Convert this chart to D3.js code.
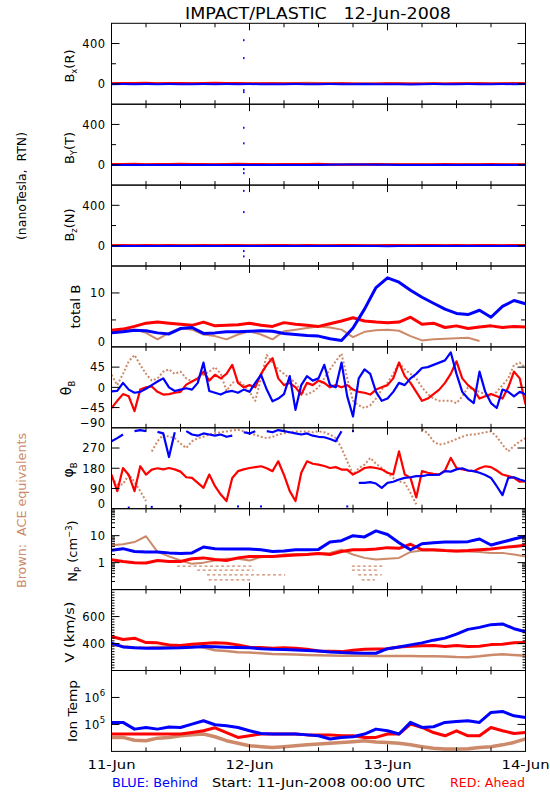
<!DOCTYPE html>
<html><head><meta charset="utf-8">
<script src="https://cdn.jsdelivr.net/npm/d3@7"></script>
<style>body{margin:0;background:#fff}svg{display:block}text{font-family:"DejaVu Sans",sans-serif}</style>
</head><body><svg id="c" width="550" height="800"></svg>
<script>
// ---------------- DATA ----------------
const hours2h = [0,2,4,6,8,10,12,14,16,18,20,22,24,26,28,30,32,34,36,38,40,42,44,46,48,50,52,54,56,58,60,62,64,66,68,70,72];
const hours1h = [0,1,2,3,4,5,6,7,8,9,10,11,12,13,14,15,16,17,18,19,20,21,22,23,24,25,26,27,28,29,30,31,32,33,34,35,36,37,38,39,40,41,42,43,44,45,46,47,48,49,50,51,52,53,54,55,56,57,58,59,60,61,62,63,64,65,66,67,68,69,70,71,72];
const dayHours = [0,24,48,72];
const dayLabels = ["11-Jun","12-Jun","13-Jun","14-Jun"];

// B components (nT, RTN)
const bxBehind = [-2,-1,-2,-1,-2,-1,-2,-2,-1,-2,-1,-2,-1,-2,-3,-2,-1,-2,-2,-1,-2,-2,-1,-3,-2,-2,-4,-2,-1,-2,-2,-1,-2,-2,-1,-2,-1];
const bxAhead  = [6,8,7,9,6,8,7,6,8,9,7,8,6,5,4,3,4,3,2,3,4,3,2,3,4,5,3,2,4,3,5,6,4,3,5,4,6];
const bxAce    = [3,2,4,3,2,3,4,5,3,4,3,2,4,3,6,8,7,9,8,7,6,3,2,3,4,3,2,3,4,3,2,6,7,5,3,6,4];
const byBehind = [-1,-2,-1,-2,-2,-1,-2,-1,-2,-1,-2,-2,-1,-2,-1,-2,-1,-2,-1,2,3,4,3,2,1,-1,-2,-1,-2,-1,-2,-1,-2,-1,-2,-1,-2];
const byAhead  = [7,6,8,5,7,6,8,7,6,5,7,8,6,7,5,6,7,6,8,5,2,3,4,6,5,4,3,5,4,6,3,5,4,6,5,4,5];
const byAce    = [4,3,5,4,3,4,5,3,4,3,5,4,3,2,4,3,5,3,4,3,2,3,4,3,5,3,4,3,2,4,3,5,3,4,3,2,4];
const bzBehind = [-1,-2,-1,-1,-2,-1,-2,-1,-1,-2,-1,-2,-1,-2,-1,-1,-2,-1,-2,-1,-2,-1,-2,-3,-4,-2,-1,-2,-1,-2,-1,-2,-1,-2,-1,-2,-1];
const bzAhead  = [4,5,3,6,4,5,4,3,5,4,6,5,4,3,6,5,4,5,3,4,5,6,4,3,5,6,4,5,6,4,5,3,6,5,4,5,6];
const bzAce    = [3,2,3,4,2,3,5,3,2,4,3,2,3,4,3,2,3,4,3,5,3,2,3,4,3,2,5,3,4,3,2,3,4,3,2,3,4];
const spikeHour = 23;
const bxSpikes = [433,256,-61,-81];
const bySpikes = [367,213,-42,-82];
const bzSpikes = [543,333,-52,-105];

// total B (nT)
const btBehind = [2.6,2.8,3.1,3.0,2.6,2.4,3.4,3.6,2.5,2.6,2.8,2.8,2.9,3.0,2.9,2.5,2.3,2.1,2.0,1.5,1.2,3.5,7.0,11.0,12.8,12.0,10.5,9.2,8.1,7.0,6.2,6.0,6.8,5.5,7.5,8.6,8.0];
const btAhead  = [3.1,3.3,3.8,4.4,4.6,4.4,4.2,4.0,4.6,3.9,4.0,4.1,4.4,4.0,3.8,4.5,4.2,4.0,3.8,4.3,4.8,5.4,4.8,4.6,4.5,4.6,5.5,4.2,4.4,3.6,3.9,3.4,3.7,3.9,3.6,3.8,3.7];
const btAce    = [2.9,3.2,3.2,2.6,1.4,2.6,3.5,3.2,2.3,2.0,1.4,2.3,2.9,2.3,1.4,2.9,3.2,3.5,3.8,3.6,3.2,1.8,2.8,3.1,3.2,3.0,2.0,1.2,1.4,1.5,1.6,1.7,1.1,null,null,null,null];

// theta_B (deg), hourly
const thBehind = [-9,-8,10,-5,-12,-10,-3,5,13,20,0,-8,-5,-2,-5,10,55,-8,-12,-16,-10,-8,-12,-5,-10,10,28,-5,-31,-25,-15,25,-50,5,25,15,20,50,5,0,55,-20,-65,20,40,30,-10,-30,-25,-10,10,5,20,30,43,45,50,55,60,78,30,-10,-25,-35,35,-10,-35,-46,-5,-10,-20,-10,-16];
const thAhead  = [-46,-30,-15,-20,-53,-5,0,2,-10,-16,-15,-12,-10,6,13,20,35,15,28,20,30,50,10,0,5,0,30,50,65,20,5,10,0,-16,10,5,15,10,0,5,0,5,-5,-10,-12,-16,-5,0,5,20,55,25,10,-10,-30,-25,-15,-5,10,30,58,20,5,-5,-25,-20,-15,-20,-25,0,35,20,-38];
const thAce    = [28,5,30,58,72,50,30,15,20,35,40,30,35,20,13,20,28,35,45,30,-8,10,15,5,-10,-30,20,72,55,40,30,20,10,-10,-16,-10,0,20,40,58,75,20,-30,-40,-46,-40,-25,-5,10,30,55,40,30,20,0,-15,-25,-30,-30,-30,-35,-20,0,-5,-10,-15,-20,-10,5,20,50,55,43];

// phi_B (deg), hourly (values above 360 wrap)
const phBehind = [300,314,330,365,345,350,345,368,342,335,230,340,372,345,330,325,335,330,325,330,320,325,370,340,335,345,370,345,340,350,345,340,335,330,335,325,320,318,310,300,345,370,345,115,115,118,112,93,115,120,130,137,140,145,145,150,150,152,167,165,175,180,170,167,160,150,137,100,60,137,140,130,122];
const phAhead  = [152,78,181,150,78,189,152,174,180,175,181,175,165,140,137,115,93,152,100,63,34,137,167,175,181,185,189,180,167,211,150,78,34,160,211,200,196,190,181,185,174,174,152,165,181,185,181,175,160,152,255,152,137,50,167,160,155,152,170,226,181,175,170,167,180,189,185,170,152,145,137,120,122];
const phAce    = [137,108,108,152,120,78,34,255,300,329,320,314,290,270,300,314,320,330,336,340,344,348,351,345,335,329,320,314,320,330,336,340,344,344,344,340,344,340,330,314,270,211,152,180,196,226,200,181,160,137,122,115,70,20,355,335,300,285,290,299,310,320,329,330,335,340,344,320,285,255,280,299,314];

// proton density (cm^-3)
const npBehind = [2.9,3.3,2.6,2.5,2.5,2.3,2.2,2.3,3.8,3.3,3.2,3.2,3.2,3.0,2.6,2.7,3.0,3.0,3.1,5.8,6.5,10,9,15,11,5.5,3.0,5.0,5.5,5.8,5.8,6.0,7.5,4.5,5.8,7.5,9.5];
const npAhead  = [1.28,1.1,1.0,0.97,1.2,1.1,1.1,1.4,1.5,1.3,1.2,1.5,1.7,1.7,1.7,1.8,1.9,2.0,2.2,2.0,2.6,3.0,3.0,3.2,3.6,3.4,4.8,3.0,3.0,2.8,2.7,2.8,3.0,3.2,3.6,4.0,4.4];
const npAce    = [4.4,4.8,5.8,9.5,2.5,1.7,1.2,0.9,1.0,1.2,1.4,1.4,1.2,1.6,1.7,2.0,2.1,2.1,2.2,2.3,3.0,2.0,1.5,1.3,1.4,1.5,2.5,2.8,2.8,2.7,2.6,2.6,2.5,2.3,2.3,2.0,1.7];
const npAceLowFrom  = [11.4,14.9,16.6,16.9,41.8,41.8,42.9,43.5];
const npAceLowTo    = [24.4,24.7,30.2,24.4,47.5,46.4,47.0,45.8];
const npAceLowValue = [0.74,0.53,0.35,0.23,0.74,0.53,0.35,0.23];

// speed (km/s)
const vBehind = [402,375,368,365,365,367,368,372,378,376,373,370,368,362,358,356,352,348,345,338,333,330,328,328,362,375,390,405,425,440,470,505,520,540,545,510,487];
const vAhead  = [452,430,440,407,405,390,385,395,400,405,402,390,372,370,365,368,365,358,345,342,340,350,358,360,362,375,380,383,385,378,385,378,380,392,395,405,407];
const vAce    = [390,380,370,368,375,378,380,378,370,350,345,335,333,328,323,320,318,315,313,311,310,310,309,308,308,308,307,306,306,304,300,299,305,315,320,315,310];

// ion temperature (K)
const tBehind = [119000,119000,67000,77000,67000,80000,77000,103000,137000,97000,89000,77000,58000,46000,44000,44000,44000,41000,38000,29000,33000,35000,44000,67000,58000,44000,119000,77000,82000,119000,129000,137000,119000,278000,303000,209000,182000];
const tAhead  = [44000,44000,44000,44000,44000,44000,44000,50000,58000,75000,50000,33000,38000,44000,44000,44000,44000,41000,41000,41000,38000,38000,33000,33000,44000,44000,103000,77000,50000,38000,58000,38000,38000,77000,58000,46000,50000];
const tAce    = [33000,33000,26000,25000,31000,33000,38000,41000,44000,35000,25000,20000,16200,15000,14000,15000,16200,17500,18700,20000,21500,23000,25000,22500,21500,20000,17500,15000,13000,12200,12200,12500,14000,15000,17500,21500,29000];

// tick labels
const bTickValues = [0,400];
const btTickValues = [0,10];
const thTickValues = [-90,-45,0,45];
const phTickValues = [0,90,180,270];
const npTickValues = [1,10];
const vTickValues = [400,600];
const tTickExps = [5,6];

// ---------------- DRAW ----------------
const BLUE = "#0000ff", RED = "#ff0000", BROWN = "#cd8a6a";
const plotLeft = 111.5, plotRight = 525.5, plotTop = 23.3, panelH = 80.9;
const x = d3.scaleLinear().domain([0,72]).range([plotLeft, plotRight]);
const svg = d3.select("#c");
const defs = svg.append("defs");

function S(hours, values, color, width, dash){ return {hours, values, color, width, dash}; }

const panels = [
  {domain:[-200,600], major:[0,400], minor:[200], labels:bTickValues.map(v=>({v,t:String(v)})),
   series:[S(hours2h,bxAce,BROWN,2.5),S(hours2h,bxAhead,RED,2.4),S(hours2h,bxBehind,BLUE,2)], spikes:bxSpikes},
  {domain:[-200,600], major:[0,400], minor:[200], labels:bTickValues.map(v=>({v,t:String(v)})),
   series:[S(hours2h,byAce,BROWN,2.5),S(hours2h,byAhead,RED,2.4),S(hours2h,byBehind,BLUE,2)], spikes:bySpikes},
  {domain:[-200,600], major:[0,400], minor:[200], labels:bTickValues.map(v=>({v,t:String(v)})),
   series:[S(hours2h,bzAce,BROWN,2.5),S(hours2h,bzAhead,RED,2.4),S(hours2h,bzBehind,BLUE,2)], spikes:bzSpikes},
  {domain:[0,15], major:[10], minor:[5], labels:btTickValues.map(v=>({v,t:String(v)})),
   series:[S(hours2h,btAce,BROWN,2),S(hours2h,btAhead,RED,3),S(hours2h,btBehind,BLUE,3)]},
  {domain:[-90,90], major:[-45,0,45], minor:[], labels:thTickValues.map(v=>({v,t:String(v).replace("-","\u2212")})),
   series:[S(hours1h,thAce,BROWN,2,"2,2"),S(hours1h,thAhead,RED,2.2),S(hours1h,thBehind,BLUE,2.2)]},
  {domain:[0,360], major:[90,180,270], minor:[], labels:phTickValues.map(v=>({v,t:String(v)})), wrap:true,
   series:[S(hours1h,phAce,BROWN,2,"2,2"),S(hours1h,phAhead,RED,2.2),S(hours1h,phBehind,BLUE,2.2)]},
  {domain:[0.1,100], log:true, major:[1,10], minorLog:true, labels:npTickValues.map(v=>({v,t:String(v)})),
   series:[S(hours2h,npAce,BROWN,2),S(hours2h,npAhead,RED,3),S(hours2h,npBehind,BLUE,3)], low:true},
  {domain:[200,800], major:[400,600], minorStep:true, labels:vTickValues.map(v=>({v,t:String(v)})),
   series:[S(hours2h,vAce,BROWN,2.5),S(hours2h,vAhead,RED,3),S(hours2h,vBehind,BLUE,3)]},
  {domain:[1e4,1e7], log:true, major:[1e5,1e6], labels:tTickExps.map(e=>({v:Math.pow(10,e),t:"10",sup:String(e)})),
   series:[S(hours2h,tAce,BROWN,3.5),S(hours2h,tAhead,RED,3),S(hours2h,tBehind,BLUE,3)]}
];

panels.forEach((p,i)=>{
  const top = plotTop + i*panelH, bot = top + panelH;
  const y = (p.log ? d3.scaleLog() : d3.scaleLinear()).domain(p.domain).range([bot, top]);
  const cid = "clip"+i;
  defs.append("clipPath").attr("id",cid).append("rect")
    .attr("x",plotLeft).attr("y",top).attr("width",plotRight-plotLeft).attr("height",panelH);
  const g = svg.append("g");
  const dg = g.append("g").attr("clip-path",`url(#${cid})`);
  const line = d3.line().x(d=>x(d[0])).y(d=>y(d[1]));

  if(p.low){
    npAceLowValue.forEach((v,k)=>{
      dg.append("line").attr("x1",x(npAceLowFrom[k])).attr("x2",x(npAceLowTo[k]))
        .attr("y1",y(v)).attr("y2",y(v)).attr("stroke",BROWN).attr("stroke-width",1.3)
        .attr("stroke-dasharray","3,2.5");
    });
  }

  p.series.forEach(s=>{
    const pts = s.hours.map((h,k)=>[h,s.values[k]]).filter(d=>d[1]!=null);
    let segs = [pts];
    if(p.wrap){
      segs = []; let cur = [];
      pts.forEach(d=>{
        const v = ((d[1]%360)+360)%360;
        if(cur.length && Math.abs(v-cur[cur.length-1][1])>180){ segs.push(cur); cur=[]; }
        cur.push([d[0],v]);
      });
      segs.push(cur);
    }
    segs.forEach(sg=>{
      if(sg.length===1){
        dg.append("rect").attr("x",x(sg[0][0])-1).attr("y",y(sg[0][1])-1)
          .attr("width",2).attr("height",2).attr("fill",s.color);
      } else {
        dg.append("path").attr("d",line(sg)).attr("fill","none").attr("stroke",s.color)
          .attr("stroke-width",s.width).attr("stroke-linejoin","round")
          .attr("stroke-dasharray",s.dash||null);
      }
    });
  });

  if(p.spikes){
    p.spikes.forEach(v=>{
      dg.append("rect").attr("x",x(spikeHour)-0.7).attr("y",y(v)-1)
        .attr("width",1.5).attr("height",2).attr("fill",BLUE);
    });
  }

  // frame
  g.append("rect").attr("x",plotLeft).attr("y",top).attr("width",plotRight-plotLeft).attr("height",panelH)
    .attr("fill","none").attr("stroke","#000").attr("stroke-width",1);

  // y ticks
  const yt = (v,len)=>{
    const yy = y(v);
    g.append("line").attr("x1",plotLeft).attr("x2",plotLeft+len).attr("y1",yy).attr("y2",yy).attr("stroke","#000");
    g.append("line").attr("x1",plotRight-len).attr("x2",plotRight).attr("y1",yy).attr("y2",yy).attr("stroke","#000");
  };
  p.major.forEach(v=>yt(v,8));
  (p.minor||[]).forEach(v=>yt(v,4.5));
  if(p.minorLog){
    y.ticks().filter(v=>Math.abs(Math.log10(v)-Math.round(Math.log10(v)))>1e-6).forEach(v=>yt(v,3.5));
  }
  if(p.minorStep){
    y.ticks(30).filter(v=>p.major.indexOf(v)<0).forEach(v=>yt(v,3));
  }

  // x ticks
  for(let h=6; h<72; h+=6){
    const len = (h%24===0) ? 7 : 4;
    g.append("line").attr("x1",x(h)).attr("x2",x(h)).attr("y1",top).attr("y2",top+len).attr("stroke","#000");
    g.append("line").attr("x1",x(h)).attr("x2",x(h)).attr("y1",bot-len).attr("y2",bot).attr("stroke","#000");
  }

  // y labels
  p.labels.forEach(l=>{
    let yy = y(l.v);
    if(Math.abs(yy-bot)<1) yy -= 5;
    const t = g.append("text").attr("x",105.5).attr("y",yy+4.3).attr("text-anchor","end")
      .attr("font-size",11.5).attr("letter-spacing",0.4).text(l.t);
    if(l.sup){
      t.attr("y",yy+4.5);
      t.append("tspan").attr("dy",-5.5).attr("font-size",8.5).text(l.sup);
    }
  });
});

// ---------------- TEXT ----------------
svg.append("text").attr("x",185).attr("y",18.5).attr("font-size",15)
  .attr("xml:space","preserve").style("white-space","pre")
  .attr("textLength",266).attr("lengthAdjust","spacingAndGlyphs")
  .text("IMPACT/PLASTIC   12-Jun-2008");

function vlabel(xb, yc, parts, size, len, color){
  const t = svg.append("text").attr("transform",`translate(${xb},${yc}) rotate(-90)`)
    .attr("text-anchor","middle").attr("font-size",size).attr("fill",color||"#000")
    .attr("xml:space","preserve").style("white-space","pre");
  if(len) t.attr("textLength",len).attr("lengthAdjust","spacingAndGlyphs");
  let cur = 0;
  parts.forEach(pt=>{
    const sh = pt.s||0;
    const ts = t.append("tspan").text(pt.t);
    if(sh!==cur){ ts.attr("dy",sh-cur); cur=sh; }
    if(pt.fs) ts.attr("font-size",size*pt.fs);
  });
}
vlabel(25.5,186,[{t:"(nanoTesla,  RTN)"}],12.5,108);
vlabel(25.5,510.5,[{t:"Brown:  ACE equivalents"}],13,155,BROWN);
vlabel(73.5,66,[{t:"B"},{t:"x",s:3.5,fs:0.65},{t:"(R)",s:0}],13);
vlabel(73.5,148,[{t:"B"},{t:"Y",s:3.5,fs:0.65},{t:"(T)",s:0}],13);
vlabel(73.5,225,[{t:"B"},{t:"z",s:3.5,fs:0.65},{t:"(N)",s:0}],13);
vlabel(79.5,306.5,[{t:"total B"}],13,44);
vlabel(71,388,[{t:"\u03b8"},{t:"B",s:3.5,fs:0.6}],14);
vlabel(73,470,[{t:"\u03c6"},{t:"B",s:3.5,fs:0.6}],14);
vlabel(77,551,[{t:"N"},{t:"P",s:3.5,fs:0.65},{t:" (cm",s:0},{t:"\u22123",s:-5,fs:0.65},{t:")",s:0}],13);
vlabel(74,632,[{t:"V (km/s)"}],13,61);
vlabel(76.5,711,[{t:"Ion Temp"}],13,62);

dayHours.forEach((h,k)=>{
  svg.append("text").attr("x",x(h)).attr("y",769).attr("text-anchor","middle")
    .attr("font-size",12.5).attr("textLength",48).attr("lengthAdjust","spacingAndGlyphs").text(dayLabels[k]);
});
svg.append("text").attr("x",112).attr("y",787).attr("font-size",13).attr("fill",BLUE)
  .attr("textLength",86).attr("lengthAdjust","spacingAndGlyphs").text("BLUE: Behind");
svg.append("text").attr("x",212).attr("y",787).attr("font-size",13).attr("fill","#000")
  .attr("textLength",213).attr("lengthAdjust","spacingAndGlyphs").text("Start: 11-Jun-2008 00:00 UTC");
svg.append("text").attr("x",450).attr("y",787).attr("font-size",13).attr("fill",RED)
  .attr("textLength",75).attr("lengthAdjust","spacingAndGlyphs").text("RED: Ahead");
</script></body></html>
